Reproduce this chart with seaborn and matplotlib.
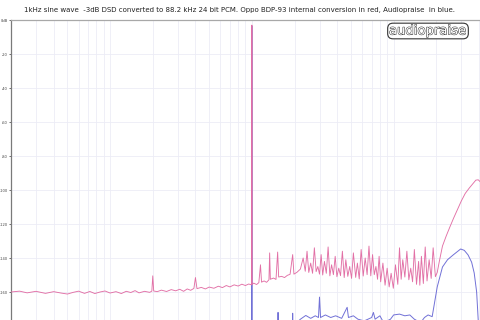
import numpy as np
import pandas as pd
import matplotlib
matplotlib.use("Agg")
import matplotlib.pyplot as plt
import matplotlib.patheffects as pe
from matplotlib.ticker import FixedLocator, NullFormatter
import seaborn as sns

# ---- data (frequency in Hz, level in dB) ----
red_freq = [20, 23, 26, 30, 35, 40, 45, 50, 55, 60, 66, 72, 78, 85, 92, 100, 110, 120, 130, 140,
            150, 160, 175, 190, 197, 200, 203, 215, 230, 250, 270, 290, 310, 330, 350, 370, 390, 400,
            410, 440, 470, 500, 540, 580, 620, 660, 700, 750, 800, 850, 900, 950, 995, 1000, 1005,
            1030, 1080, 1120, 1150, 1170, 1220, 1270, 1320, 1335, 1350, 1420, 1480, 1520, 1545, 1620,
            1700, 1780, 1860, 1940, 1980, 2080, 2200,
            2300, 2380, 2450, 2520, 2600, 2680, 2760, 2840, 2920, 3000, 3080, 3160, 3250, 3350, 3450,
            3550, 3650, 3760, 3870, 3980, 4100, 4220, 4350, 4480, 4600, 4750, 4900, 5050, 5200, 5400,
            5550, 5720,
            5900, 6100, 6300, 6500, 6700, 6900, 7100, 7300, 7500, 7700, 7900, 8100, 8400, 8700, 9000,
            9300, 9600, 9950, 10300, 10700, 11000, 11300, 11600, 12000, 12400, 12800, 13200, 13600,
            14000, 14500, 15000, 15300, 15700, 16200, 16700, 17200, 17800, 18400, 19000, 19700, 20300,
            21000, 22100, 23500, 25000, 26500, 28100, 30000, 32000, 34200, 36500, 38000, 39500, 41000,
            44100]
red_db = [-160, -159.5, -160.5, -159.6, -160.8, -159.8, -160.6, -161.2, -160.2, -159.5, -160.8, -159.7,
          -160.9, -160.0, -159.4, -160.6, -159.8, -160.9, -159.6, -160.3,
          -159.2, -160.5, -159.6, -160.2, -159.5, -150.5, -159.4, -159.8, -158.9, -159.7, -158.6, -159.3,
          -158.4, -159.6, -158.2, -159.0, -157.9, -151.5,
          -158.0, -157.3, -158.2, -157.1, -157.8, -156.6, -157.4, -156.2, -157.0, -155.8, -156.5, -155.4,
          -156.2, -155.3, -155.8, -3.0, -155.5,
          -154.8, -155.6, -154.5, -144, -154.2, -153.5, -154.3, -152.8, -137, -152.5, -151.8, -152.6,
          -136.5, -151.2, -150.8,
          -151.5, -150.2, -149.6, -138, -149.5, -148.4, -146.5,
          -140, -147.8, -136, -148.5, -143, -149, -134, -148, -145, -149.5, -138, -150, -142, -149, -133.5,
          -150.5, -144, -149.8, -139, -151, -146, -150.4, -136, -151.5, -141, -150.8, -145, -152, -137,
          -151.4, -143, -152.3,
          -135, -150.6, -140, -149.8, -133, -150.5, -138, -149.8, -145, -152.5, -139, -154, -143, -156,
          -146, -157, -149, -157.8, -144, -155.5, -134, -152.5, -141, -151.2, -136, -152.8, -146, -154,
          -135, -155.5, -142, -156, -139, -155, -133.5, -153.5, -141, -152, -134, -151, -148.5,
          -142, -133, -127, -121.5, -116.5, -111.8, -106.5, -102, -98.8, -96, -94.2, -94, -95.3,
          -96]

blue_freq = [20, 200, 500, 995, 1000, 1005, 1300, 1520, 1530, 1540, 1930, 1940, 1950, 2200, 2400, 2600,
             2800, 2950, 3000, 3050, 3300, 3600, 3900, 4300, 4700, 4800, 5200, 5600, 6200, 7000, 7200,
             7400, 8000, 8500, 9500, 10000, 11000, 12000, 13000, 14000, 15500, 16500, 17500, 18700,
             20300, 22100, 24000, 26300, 29700, 31500, 33500, 35500, 37000, 38500, 39500, 40500, 44100]
blue_db = [-186, -185, -184, -182, -3.5, -182, -181, -181, -172, -181, -180, -172.5, -180, -176, -173.8,
           -175.5, -174, -175, -163, -175, -173.5, -175, -174, -175.5, -169, -175, -174, -176, -177, -175,
           -172, -176, -174, -178, -176, -173.5, -173, -174, -173.5, -176, -178, -175, -173.5, -174.5,
           -157, -145.3, -141, -138.2, -134.7, -135.5, -138.2, -142.5, -148.8, -160, -176.5, -195, -200]

y_ticks = [0, -20, -40, -60, -80, -100, -120, -140, -160]
y_labels = ["0dB", "-20", "-40", "-60", "-80", "-100", "-120", "-140", "-160"]

title = ("1kHz sine wave  -3dB DSD converted to 88.2 kHz 24 bit PCM. Oppo BDP-93 internal "
         "conversion in red, Audiopraise  in blue.")

sns.set_style("white")
plt.rcParams["font.family"] = ["DejaVu Sans"]

fig = plt.figure(figsize=(4.8, 3.2), dpi=100)
ax = fig.add_axes([11 / 480, -6 / 320, 474 / 480, 306 / 320])

red_df = pd.DataFrame({"freq": red_freq, "db": red_db})
blue_df = pd.DataFrame({"freq": blue_freq, "db": blue_db})

sns.lineplot(data=blue_df, x="freq", y="db", ax=ax, sort=False, estimator=None,
             color="#5858d0", lw=0.7, alpha=0.85, zorder=3)
sns.lineplot(data=red_df, x="freq", y="db", ax=ax, sort=False, estimator=None,
             color="#e270a6", lw=0.65, alpha=1.0, zorder=4)

ax.set_xscale("log")
ax.set_xlim(20, 44100)
ax.set_ylim(-180, 0)

# grid
minor_x = [m * 10 ** e for e in range(1, 5) for m in range(1, 10)]
minor_x = [v for v in minor_x if 20 <= v <= 44100]
for v in minor_x:
    ax.axvline(v, color="#ececf6", lw=0.6, zorder=1)
for v in y_ticks[1:]:
    ax.axhline(v, color="#ececf6", lw=0.6, zorder=1)

ax.set_xticks([])
ax.xaxis.set_minor_locator(FixedLocator([]))
ax.xaxis.set_minor_formatter(NullFormatter())
ax.set_xlabel("")
ax.set_ylabel("")
ax.set_yticks(y_ticks)
ax.set_yticklabels(y_labels)
ax.tick_params(axis="y", left=True, length=1.5, width=0.6, pad=0.8, labelsize=2.6,
               colors="#555555", labelcolor="#444444")

for s in ["right", "bottom"]:
    ax.spines[s].set_visible(False)
ax.spines["left"].set_color("#7a7a7a")
ax.spines["left"].set_linewidth(0.9)
ax.spines["top"].set_color("#a8a8a8")
ax.spines["top"].set_linewidth(0.9)

fig.text(0.5, 1 - 10 / 320, title, ha="center", va="center", fontsize=5.05, color="#222222")

logo = fig.text(428 / 480, 1 - 31 / 320, "audiopraise", ha="center", va="center",
                fontsize=9.5, color="white",
                bbox=dict(boxstyle="round,pad=0.1,rounding_size=0.4", fc="white",
                          ec="#333333", lw=0.8))
logo.set_path_effects([pe.Stroke(linewidth=0.7, foreground="#333333"), pe.Normal()])

fig.savefig("out.png", dpi=100)
